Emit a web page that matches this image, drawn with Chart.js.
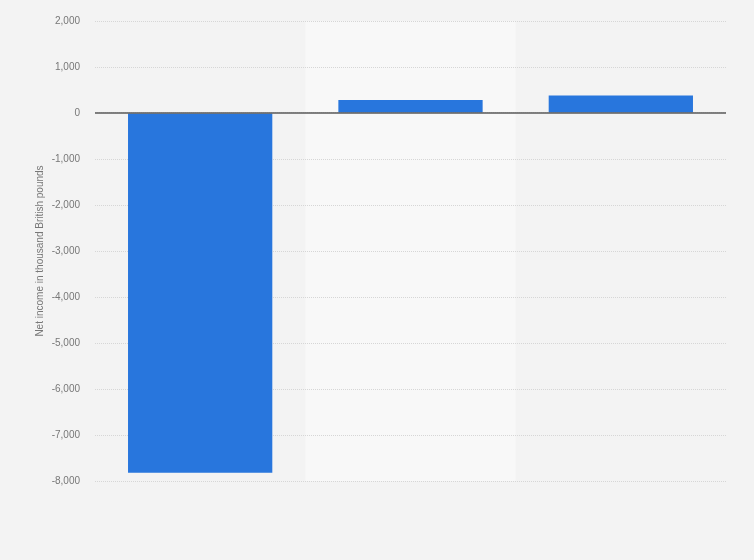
<!DOCTYPE html>
<html>
<head>
<meta charset="utf-8">
<script src="https://cdn.jsdelivr.net/npm/chart.js@4"></script>
<style>
  html, body { margin: 0; padding: 0; background: #f3f3f3; }
  #wrap { width: 754px; height: 560px; position: relative; }
</style>
</head>
<body>
<div id="wrap"><canvas id="c"></canvas></div>
<script>
const categories = ["A", "B", "C"];
const netIncome = [-7820, 285, 380];
const yTicks = [2000, 1000, 0, -1000, -2000, -3000, -4000, -5000, -6000, -7000, -8000];
const yTitle = "Net income in thousand British pounds";

const bgPlugin = {
  id: 'bg',
  beforeDraw(chart) {
    const {ctx, chartArea, scales} = chart;
    ctx.save();
    ctx.fillStyle = '#f3f3f3';
    ctx.fillRect(0, 0, chart.width, chart.height);
    const x = scales.x;
    const w = (chartArea.right - chartArea.left) / categories.length;
    const cx = x.getPixelForValue(1);
    ctx.fillStyle = '#f8f8f8';
    ctx.fillRect(cx - w / 2, chartArea.top, w, chartArea.bottom - chartArea.top);
    ctx.restore();
  },
  afterDatasetsDraw(chart) {
    const {ctx, chartArea, scales} = chart;
    const y0 = Math.round(scales.y.getPixelForValue(0));
    ctx.save();
    ctx.strokeStyle = '#5a5a5a';
    ctx.lineWidth = 1.6;
    ctx.beginPath();
    ctx.moveTo(chartArea.left, y0);
    ctx.lineTo(chartArea.right, y0);
    ctx.stroke();
    ctx.restore();
  }
};

new Chart(document.getElementById('c'), {
  type: 'bar',
  data: {
    labels: categories,
    datasets: [{
      data: netIncome,
      backgroundColor: '#2876dd',
      borderWidth: 0,
      categoryPercentage: 1,
      barPercentage: 0.686
    }]
  },
  options: {
    responsive: true,
    maintainAspectRatio: false,
    animation: false,
    layout: { padding: { left: 0, right: 28, top: 20, bottom: 79 } },
    plugins: { legend: { display: false }, tooltip: { enabled: false } },
    scales: {
      x: { display: false, grid: { display: false } },
      y: {
        min: -8000, max: 2000,
        afterFit(scale) { scale.width = 95; },
        afterBuildTicks(scale) { scale.ticks = yTicks.map(v => ({ value: v })); },
        border: { display: false, dash: [1, 1] },
        grid: { color: '#d6d6d6', lineWidth: 1, drawTicks: false },
        ticks: {
          color: '#777',
          padding: 15,
          font: { family: 'Arial, "Liberation Sans", sans-serif', size: 10 },
          callback: v => v.toLocaleString('en-US')
        },
        title: {
          display: true,
          text: yTitle,
          color: '#777',
          font: { family: 'Arial, "Liberation Sans", sans-serif', size: 10 },
          padding: { top: 34, bottom: 0 }
        }
      }
    }
  },
  plugins: [bgPlugin]
});
</script>
</body>
</html>
